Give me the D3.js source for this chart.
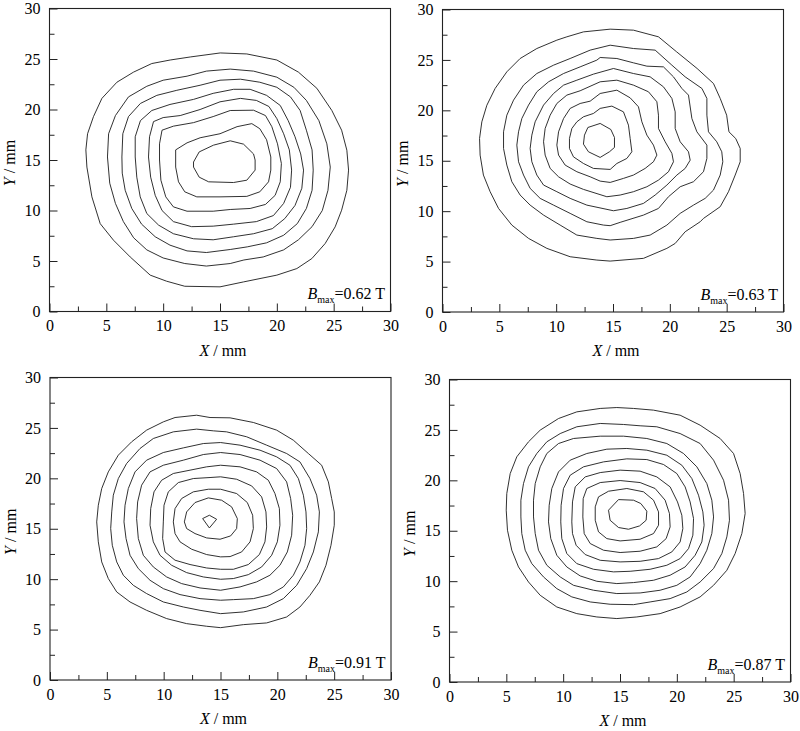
<!DOCTYPE html>
<html><head><meta charset="utf-8">
<script src="https://cdn.jsdelivr.net/npm/d3@7"></script>
<style>
body{margin:0;background:#fff}
svg{display:block}
</style></head>
<body><svg id="c" width="800" height="731" style="font-family:'Liberation Serif','Times New Roman',serif"></svg>
<script>
// ---------- DATA (mm) ----------
const majorTicks = [0,5,10,15,20,25,30];
const minorTicks = [2.5,7.5,12.5,17.5,22.5,27.5];
const bmaxLabels = ["0.62","0.63","0.91","0.87"];

// Panel A (Bmax 0.62 T) contour lines, outer to inner
const contoursA = [
 [[15.02,25.6],[12.38,25.2],[10.62,24.9],[9.0,24.55],[7.39,23.7],[5.93,22.7],[4.61,21.1],[3.87,19.3],[3.35,17.6],[3.2,16.0],[3.29,14.3],[3.73,11.35],[4.46,8.7],[5.63,7.06],[7.1,5.4],[8.86,3.6],[10.3,3.0],[11.9,2.5],[15.0,2.44],[17.07,2.93],[20.0,3.6],[21.76,4.25],[23.08,5.24],[24.25,6.73],[25.13,8.38],[25.7,10.03],[26.16,12.0],[26.31,14.0],[26.16,15.97],[25.7,17.95],[24.84,19.9],[23.52,22.1],[21.9,23.7],[20.0,24.9],[17.36,25.5]],
 [[5.1,15.3],[5.2,17.6],[5.8,19.4],[6.95,21.25],[8.56,22.3],[10.0,22.9],[12.1,23.3],[13.8,23.8],[15.9,24.0],[17.95,23.8],[20.0,23.2],[21.5,22.2],[22.6,20.9],[23.7,18.9],[24.4,16.6],[24.7,14.3],[24.5,12.0],[24.0,10.0],[23.1,8.4],[21.9,7.1],[20.6,6.1],[18.8,5.4],[17.1,5.1],[15.9,4.75],[13.8,4.5],[11.9,4.75],[10.0,5.3],[8.56,6.1],[7.4,7.3],[6.5,8.9],[5.8,10.7],[5.3,12.7]],
 [[6.37,15.3],[6.45,17.6],[6.95,19.3],[8.0,20.6],[9.44,21.4],[11.2,21.9],[13.25,22.4],[15.0,22.9],[16.8,23.0],[18.5,22.7],[20.0,22.2],[21.2,21.25],[22.05,19.9],[22.6,17.95],[23.1,16.0],[23.2,14.0],[23.1,12.0],[22.6,10.2],[21.8,8.7],[20.6,7.55],[19.1,6.8],[17.4,6.4],[15.9,6.14],[13.8,5.84],[12.1,6.0],[10.6,6.57],[9.3,7.4],[8.1,8.65],[7.24,10.2],[6.66,12.0],[6.4,13.7]],
 [[7.54,15.3],[7.54,17.3],[8.0,18.9],[9.0,19.9],[10.6,20.5],[12.67,21.0],[14.4,21.6],[16.2,22.0],[17.65,22.0],[19.1,21.4],[20.3,20.4],[21.0,18.9],[21.6,17.3],[22.1,15.6],[22.35,14.0],[22.2,12.2],[21.6,10.5],[20.7,9.2],[19.6,8.2],[17.95,7.7],[16.2,7.4],[14.4,7.1],[12.67,7.2],[10.9,7.7],[9.6,8.55],[8.56,9.7],[7.98,11.35],[7.68,13.3]],
 [[8.71,15.3],[8.8,17.3],[9.15,18.8],[10.0,19.2],[11.5,19.4],[13.25,20.0],[15.0,20.76],[16.8,21.1],[18.2,20.9],[19.3,20.3],[20.0,19.1],[20.6,17.6],[21.1,16.0],[21.3,14.0],[21.2,12.3],[20.6,10.7],[19.7,9.5],[18.2,8.9],[16.2,8.65],[14.4,8.45],[12.5,8.4],[10.9,8.9],[9.9,10.0],[9.3,11.5],[8.9,13.3]],
 [[9.68,16.6],[9.9,17.95],[10.9,18.35],[12.67,18.7],[14.4,19.3],[15.9,19.9],[17.95,19.93],[19.0,19.4],[19.56,18.3],[20.06,16.6],[20.4,14.65],[20.3,12.84],[19.85,11.5],[19.0,10.6],[17.65,10.2],[15.9,10.1],[14.4,9.93],[12.1,9.93],[10.9,10.36],[10.23,11.35],[9.8,13.0],[9.68,15.0]],
 [[11.1,16.0],[12.1,16.7],[13.25,17.2],[15.0,17.6],[16.5,18.3],[17.8,18.6],[18.5,18.1],[19.1,17.0],[19.47,15.3],[19.47,14.0],[19.27,12.84],[18.5,11.85],[17.36,11.4],[15.0,11.35],[12.96,11.35],[11.9,11.85],[11.35,12.84],[11.1,14.3]],
 [[12.67,14.8],[12.67,14.3],[13.17,13.3],[14.0,12.84],[16.19,12.77],[17.36,13.0],[18.09,14.0],[18.09,15.0],[17.95,15.6],[17.07,16.57],[15.9,16.9],[14.43,16.47],[13.17,15.8]]
];

// Panel B (Bmax 0.63 T)
const contoursB = [
 [[3.26,17.21],[3.46,18.86],[3.9,20.5],[4.63,22.17],[5.66,23.82],[6.83,25.14],[8.3,26.13],[10.06,26.96],[10.94,27.29],[12.4,27.78],[14.75,28.05],[16.8,27.95],[19.0,27.29],[20.6,25.8],[22.4,24.15],[23.84,22.66],[24.43,21.18],[25.0,19.52],[25.2,17.87],[25.8,17.2],[26.19,16.22],[26.19,14.9],[25.75,13.58],[25.16,11.93],[24.43,10.44],[22.96,9.28],[22.67,8.95],[21.35,7.96],[20.47,6.8],[19.74,6.31],[17.68,5.32],[14.75,5.05],[13.58,5.15],[11.23,5.48],[9.18,6.31],[7.57,7.3],[6.1,8.62],[4.93,10.27],[4.19,11.93],[3.6,13.58],[3.31,15.56]],
 [[5.37,16.22],[5.37,17.87],[5.66,19.52],[6.25,21.01],[7.13,22.5],[8.3,23.65],[9.77,24.48],[11.23,25.14],[12.99,25.97],[14.75,26.46],[16.8,26.13],[18.71,25.97],[20.18,24.48],[21.35,23.32],[22.82,22.17],[23.26,21.18],[23.26,19.52],[23.4,17.87],[24.13,16.88],[24.57,15.89],[24.66,14.9],[24.43,13.58],[23.84,12.09],[23.11,11.27],[22.08,10.6],[20.91,9.78],[19.74,8.62],[18.27,7.63],[16.8,7.3],[14.75,7.14],[13.58,7.3],[11.82,7.63],[10.35,8.62],[8.89,9.61],[7.71,10.6],[6.83,11.6],[6.1,12.92],[5.66,14.57]],
 [[13.87,25.24],[15.34,25.14],[16.8,24.71],[17.98,24.38],[19.44,24.31],[20.32,23.32],[21.06,22.17],[21.64,21.51],[21.94,19.19],[22.38,17.87],[23.26,16.55],[23.26,15.23],[22.96,13.91],[22.08,12.92],[20.91,12.42],[19.88,11.43],[19.0,10.27],[17.68,9.61],[15.63,8.89],[14.75,8.56],[14.16,8.62],[12.7,8.95],[11.23,9.78],[9.77,10.6],[8.59,11.27],[7.71,12.26],[7.13,13.58],[6.69,14.9],[6.54,16.55],[6.69,17.87],[6.98,19.19],[7.57,20.52],[8.3,21.84],[9.33,22.83],[10.65,23.65],[12.11,24.31],[13.58,24.98]],
 [[15.04,24.15],[16.8,23.65],[18.27,23.32],[19.44,22.33],[20.18,21.18],[20.47,19.85],[20.47,18.2],[20.91,16.88],[21.64,15.89],[21.79,15.06],[21.35,14.24],[20.62,13.58],[19.74,12.59],[18.71,11.6],[17.68,10.77],[16.22,10.27],[15.04,10.04],[12.7,10.6],[11.23,11.27],[10.06,11.93],[8.89,12.59],[8.3,13.58],[7.86,14.9],[7.71,16.22],[7.86,17.54],[8.15,18.86],[8.89,20.52],[9.77,21.67],[10.65,22.5],[11.82,22.99],[13.28,23.59]],
 [[13.87,22.83],[15.34,22.99],[16.8,22.5],[18.12,21.84],[18.86,20.85],[19.0,19.52],[19.0,18.2],[19.59,16.88],[20.18,15.73],[20.32,14.9],[19.88,13.91],[19.0,13.08],[17.98,12.42],[16.8,11.93],[15.63,11.6],[14.46,11.43],[12.4,12.16],[11.23,12.69],[10.21,13.41],[9.47,14.24],[9.03,15.56],[8.89,16.88],[9.03,18.2],[9.47,19.52],[10.06,20.68],[10.94,21.51],[12.11,21.94]],
 [[13.87,21.67],[15.34,22.0],[16.51,21.24],[17.24,20.35],[17.54,18.86],[17.98,17.54],[18.56,16.55],[18.86,15.56],[18.56,14.9],[17.83,14.24],[16.8,13.58],[15.92,13.25],[14.75,12.85],[13.87,12.98],[12.99,13.41],[11.82,13.91],[10.79,14.57],[10.21,15.56],[10.06,16.55],[10.21,17.87],[10.65,19.19],[11.23,20.19],[12.11,20.68],[12.99,20.91]],
 [[13.87,20.19],[14.9,20.42],[15.92,19.85],[16.36,18.53],[16.51,17.21],[16.66,15.89],[16.22,15.23],[15.34,14.73],[14.75,14.14],[13.28,14.24],[12.4,14.73],[11.52,15.39],[11.17,16.22],[11.17,17.21],[11.38,18.2],[11.82,18.86],[12.4,19.36],[13.28,19.69]],
 [[12.79,18.3],[13.87,18.7],[14.81,18.1],[15.13,17.31],[15.13,16.32],[14.69,15.89],[13.87,15.33],[12.84,15.89],[12.4,16.65],[12.49,17.54]]
];

// Panel C (Bmax 0.91 T)
const contoursC = [
 [[11.0,26.03],[12.9,26.26],[14.08,26.03],[15.84,26.0],[17.89,25.54],[19.94,24.78],[21.41,23.78],[22.73,22.46],[23.9,21.3],[24.49,19.65],[24.78,18.0],[25.01,16.67],[25.01,15.35],[24.72,13.36],[24.28,11.38],[23.7,9.73],[22.87,8.4],[21.99,7.24],[20.82,6.25],[19.06,5.66],[17.01,5.49],[15.01,5.19],[13.78,5.33],[12.02,5.59],[10.26,6.09],[8.5,6.91],[7.04,7.74],[5.87,8.73],[5.13,10.06],[4.55,11.71],[4.25,13.7],[4.11,15.68],[4.25,17.33],[4.55,18.99],[5.13,20.64],[6.01,22.3],[7.18,23.62],[8.5,24.78],[9.97,25.6]],
 [[10.85,24.61],[12.9,24.88],[14.37,24.71],[15.54,24.61],[17.3,24.12],[19.06,23.29],[20.82,22.46],[21.99,21.63],[22.87,19.98],[23.46,18.33],[23.7,16.67],[23.61,14.69],[23.17,12.7],[22.58,11.05],[21.7,9.39],[20.53,8.07],[19.06,7.24],[17.01,6.75],[15.01,6.58],[13.2,6.91],[11.73,7.24],[9.97,7.74],[8.5,8.57],[7.33,9.39],[6.45,10.39],[5.87,11.71],[5.48,13.36],[5.34,15.02],[5.43,16.67],[5.57,18.33],[6.01,19.98],[6.74,21.47],[7.92,22.96],[9.09,23.95]],
 [[6.6,17.33],[6.89,18.99],[7.48,20.64],[8.5,21.8],[9.97,22.56],[11.73,23.02],[13.49,23.45],[15.01,23.55],[16.72,23.29],[18.48,22.79],[19.94,22.13],[21.11,21.3],[21.85,19.98],[22.29,18.33],[22.52,16.67],[22.58,15.02],[22.43,13.36],[21.99,11.71],[21.41,10.39],[20.53,9.23],[19.35,8.47],[17.89,8.07],[16.13,7.97],[15.01,7.91],[13.2,8.07],[11.44,8.47],[9.97,9.06],[8.8,9.89],[7.77,11.05],[7.04,12.37],[6.69,14.03],[6.51,15.68]],
 [[7.62,16.01],[7.71,17.66],[8.06,19.32],[8.8,20.64],[9.97,21.3],[11.73,21.8],[13.49,22.36],[15.01,22.56],[16.72,22.36],[18.48,21.8],[19.94,20.97],[20.82,19.65],[21.17,18.0],[21.35,16.34],[21.26,14.36],[20.88,12.7],[20.23,11.38],[19.35,10.39],[18.18,9.73],[16.72,9.23],[15.01,8.9],[13.2,9.13],[11.58,9.56],[10.26,10.22],[9.09,11.21],[8.21,12.37],[7.77,14.03]],
 [[8.8,15.35],[8.86,17.0],[9.15,18.66],[9.82,19.81],[10.85,20.48],[12.32,20.81],[13.78,21.14],[15.01,21.3],[16.72,21.14],[18.18,20.64],[19.21,19.81],[19.79,18.49],[20.18,17.0],[20.23,15.35],[20.0,13.7],[19.5,12.37],[18.62,11.21],[17.45,10.45],[16.13,10.06],[15.01,9.99],[13.49,10.22],[12.02,10.65],[10.7,11.38],[9.68,12.37],[9.09,13.7]],
 [[9.97,15.68],[10.03,17.33],[10.41,18.66],[11.29,19.58],[12.61,19.98],[14.08,20.08],[15.01,20.15],[16.42,19.91],[17.74,19.25],[18.62,18.16],[19.0,16.67],[19.06,15.18],[18.91,13.7],[18.42,12.44],[17.45,11.45],[16.13,10.98],[15.01,10.98],[13.78,11.11],[12.32,11.45],[11.0,11.88],[10.12,12.7],[9.91,14.03]],
 [[10.85,15.68],[11.0,17.0],[11.58,18.0],[12.61,18.66],[13.93,18.92],[15.01,18.92],[16.42,18.49],[17.36,17.6],[17.83,16.34],[17.89,15.02],[17.6,13.7],[16.86,12.7],[15.84,12.24],[15.01,12.21],[13.78,12.44],[12.46,12.97],[11.44,13.7],[11.0,14.52]],
 [[11.82,15.68],[12.02,16.67],[12.76,17.6],[13.93,18.06],[15.1,17.83],[15.98,17.17],[16.48,16.01],[16.42,15.02],[15.89,14.29],[14.96,13.96],[13.78,14.09],[12.76,14.52],[12.02,15.02]],
 [[13.43,16.01],[14.02,16.34],[14.66,15.94],[14.02,15.08]]
];

// Panel D (Bmax 0.87 T)
const contoursD = [
 [[14.72,27.22],[13.26,27.13],[11.2,26.79],[9.59,26.13],[7.98,24.98],[6.95,23.82],[5.92,22.33],[5.34,20.67],[5.04,18.69],[4.99,17.04],[5.1,15.05],[5.48,13.07],[6.07,11.41],[6.95,9.92],[7.98,8.6],[9.44,7.44],[11.2,6.78],[12.96,6.45],[14.72,6.29],[16.48,6.45],[18.53,6.78],[20.29,7.44],[22.05,8.44],[23.23,9.59],[24.4,11.08],[25.13,12.74],[25.72,14.72],[26.01,16.71],[25.87,18.69],[25.57,20.67],[24.99,22.66],[23.81,24.15],[22.05,25.47],[20.29,26.46],[17.95,26.96],[16.19,27.13]],
 [[13.26,25.64],[11.2,25.31],[9.74,24.64],[8.56,23.82],[7.68,22.66],[6.95,21.34],[6.51,19.68],[6.28,18.03],[6.28,16.37],[6.36,14.72],[6.66,13.07],[7.24,11.74],[8.27,10.42],[9.44,9.26],[10.76,8.44],[12.38,7.94],[14.13,7.71],[16.19,7.67],[17.65,7.94],[19.41,8.27],[20.88,8.93],[22.05,9.92],[23.23,11.25],[23.96,12.74],[24.4,14.39],[24.63,16.04],[24.55,18.03],[24.11,20.01],[23.23,22.0],[22.05,23.65],[20.29,24.64],[18.24,25.31],[16.77,25.41],[15.31,25.54]],
 [[13.26,24.38],[10.91,24.15],[9.59,23.65],[8.56,22.66],[7.98,21.34],[7.54,19.68],[7.39,18.03],[7.39,16.37],[7.54,14.72],[7.83,13.07],[8.56,11.58],[9.74,10.42],[10.91,9.59],[12.67,9.1],[14.72,8.77],[16.77,8.83],[18.53,9.1],[20.0,9.59],[21.17,10.42],[22.05,11.74],[22.64,13.07],[23.08,14.72],[23.23,16.37],[23.08,18.03],[22.64,19.68],[21.76,21.34],[20.59,22.66],[19.12,23.65],[17.36,24.15],[15.31,24.38]],
 [[8.71,15.88],[8.77,17.53],[9.0,19.19],[9.59,20.84],[10.62,22.0],[12.08,22.66],[13.84,23.09],[15.6,23.16],[17.36,22.99],[19.12,22.49],[20.44,21.5],[21.32,20.18],[21.91,18.52],[22.29,16.87],[22.4,15.55],[22.2,13.89],[21.61,12.57],[20.73,11.41],[19.41,10.59],[17.95,10.09],[16.19,9.86],[14.72,9.76],[12.96,9.99],[11.5,10.52],[10.32,11.41],[9.44,12.57],[8.91,14.22]],
 [[9.79,15.88],[9.82,17.53],[10.03,19.19],[10.62,20.51],[11.79,21.34],[13.55,21.83],[15.6,22.13],[17.36,22.06],[18.83,21.57],[20.0,20.67],[20.73,19.35],[21.17,17.86],[21.47,16.21],[21.41,14.56],[21.03,13.23],[20.29,12.24],[19.12,11.58],[17.65,11.18],[15.89,10.98],[14.43,10.92],[12.67,11.18],[11.2,11.74],[10.32,12.74],[9.88,14.22]],
 [[10.76,15.88],[10.82,17.86],[11.06,19.35],[11.94,20.34],[13.26,20.77],[15.01,21.01],[16.77,20.91],[18.24,20.34],[19.41,19.35],[20.06,17.86],[20.44,16.54],[20.53,15.22],[20.29,13.89],[19.56,12.9],[18.39,12.24],[16.77,11.97],[15.01,11.91],[13.26,12.07],[11.94,12.64],[11.14,13.56],[10.82,14.72]],
 [[11.76,18.19],[12.08,19.19],[13.26,19.78],[15.01,19.98],[16.77,19.78],[18.09,19.19],[18.97,18.03],[19.35,16.71],[19.41,15.38],[19.06,14.22],[18.24,13.4],[16.77,12.97],[15.01,12.84],[13.55,13.07],[12.38,13.73],[11.85,14.72],[11.73,16.37]],
 [[12.82,17.37],[13.11,18.36],[13.99,18.92],[15.6,19.19],[17.07,18.86],[17.95,18.03],[18.39,16.87],[18.39,15.55],[17.95,14.72],[16.77,14.16],[15.01,13.99],[13.84,14.22],[13.11,14.89],[12.82,16.04]],
 [[13.99,17.04],[14.87,18.09],[16.19,18.03],[16.83,17.7],[17.36,16.94],[17.3,16.04],[16.72,15.48],[15.75,15.15],[14.87,15.32],[14.13,16.04]]
];

// ---------- LAYOUT ----------
const allContours = [contoursA, contoursB, contoursC, contoursD];
const layout = [
  {x0:49.5, x1:390.5, y0:8.5,   y1:311.5},
  {x0:442.5,x1:783.5, y0:9.5,   y1:312},
  {x0:50,   x1:391,   y0:377.5, y1:680},
  {x0:449.5,x1:790.5, y0:379.5, y1:682}
];
const SERIF = "'Liberation Serif','Times New Roman',serif";
const svg = d3.select("#c");
const FS = 16;

layout.forEach((L, i) => {
  const x = d3.scaleLinear().domain([0,30]).range([L.x0, L.x1]);
  const y = d3.scaleLinear().domain([0,30]).range([L.y1, L.y0]);
  const g = svg.append("g");
  const line = d3.line().x(d => x(d[0])).y(d => y(d[1])).curve(d3.curveLinearClosed);

  g.selectAll("path.ct").data(allContours[i]).join("path")
    .attr("class","ct").attr("d", line)
    .attr("fill","none").attr("stroke","#1a1a1a").attr("stroke-width",0.9);

  g.append("rect").attr("x",L.x0).attr("y",L.y0)
    .attr("width",L.x1-L.x0).attr("height",L.y1-L.y0)
    .attr("fill","none").attr("stroke","#222").attr("stroke-width",1.1);

  const styleAxis = s => {
    s.select(".domain").remove();
    s.attr("font-family",SERIF).attr("font-size",FS);
    s.selectAll("line").attr("stroke","#222").attr("stroke-width",1);
    s.selectAll("text").style("font-family",SERIF).style("font-size",FS+"px").attr("fill","#000");
  };

  g.append("g").attr("transform",`translate(0,${L.y1})`)
    .call(d3.axisBottom(x).tickValues(minorTicks).tickSize(-5).tickFormat(""))
    .call(styleAxis);
  g.append("g").attr("transform",`translate(0,${L.y1})`)
    .call(d3.axisBottom(x).tickValues(majorTicks).tickSize(-8).tickPadding(8.6).tickFormat(d3.format("d")))
    .call(styleAxis);
  g.append("g").attr("transform",`translate(${L.x0},0)`)
    .call(d3.axisLeft(y).tickValues(minorTicks).tickSize(-5).tickFormat(""))
    .call(styleAxis);
  g.append("g").attr("transform",`translate(${L.x0},0)`)
    .call(d3.axisLeft(y).tickValues(majorTicks).tickSize(-8).tickPadding(9).tickFormat(d3.format("d")))
    .call(styleAxis);

  const xt = g.append("text")
    .attr("x",(L.x0+L.x1)/2+3).attr("y",L.y1+44)
    .attr("text-anchor","middle").style("font-family",SERIF).style("font-size",FS+"px");
  xt.append("tspan").style("font-style","italic").text("X");
  xt.append("tspan").text(" / mm");

  const yt = g.append("text")
    .attr("transform",`translate(${L.x0-34.5},${(L.y0+L.y1)/2+3}) rotate(-90)`)
    .attr("text-anchor","middle").style("font-family",SERIF).style("font-size",FS+"px");
  yt.append("tspan").style("font-style","italic").text("Y");
  yt.append("tspan").text(" / mm");

  const bt = g.append("text")
    .attr("x",L.x1-5.5).attr("y",L.y1-12.5)
    .attr("text-anchor","end").style("font-family",SERIF).style("font-size",FS+"px");
  bt.append("tspan").style("font-style","italic").text("B");
  bt.append("tspan").style("font-size","10px").attr("dy",4).text("max");
  bt.append("tspan").attr("dy",-4).text("=" + bmaxLabels[i] + " T");
});
</script>
</body></html>
